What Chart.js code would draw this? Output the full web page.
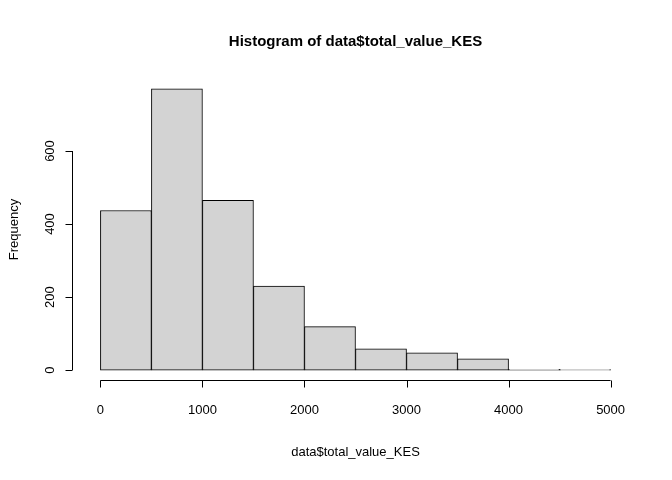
<!DOCTYPE html>
<html>
<head>
<meta charset="utf-8">
<script src="https://cdn.jsdelivr.net/npm/chart.js@4"></script>
<style>
  html, body { margin: 0; padding: 0; background: #fff; }
  #wrap { width: 672px; height: 480px; }
</style>
</head>
<body>
<div id="wrap"><canvas id="hist"></canvas></div>
<script>
// Histogram bins (bin midpoints) and counts
const binCenters = [250, 750, 1250, 1750, 2250, 2750, 3250, 3750, 4250, 4750];
const counts = [437, 770, 465, 230, 119, 58, 47, 31, 2, 1];
const xTicks = [0, 1000, 2000, 3000, 4000, 5000];
const yTicks = [0, 200, 400, 600];

const FONT = '"Liberation Sans", Arial, sans-serif';

// Draws R-style detached axes, ticks and labels from the chart's scales
const rAxes = {
  id: 'rAxes',
  afterDraw(chart) {
    const ctx = chart.ctx;
    const xs = chart.scales.x, ys = chart.scales.y;
    const area = chart.chartArea;
    ctx.save();
    ctx.strokeStyle = '#000';
    ctx.fillStyle = '#000';
    ctx.lineWidth = 1;
    ctx.font = '13px ' + FONT;

    // x axis
    const axY = Math.round(area.bottom) - 0.5;
    ctx.beginPath();
    ctx.moveTo(xs.getPixelForValue(xTicks[0]), axY);
    ctx.lineTo(xs.getPixelForValue(xTicks[xTicks.length - 1]), axY);
    xTicks.forEach(v => {
      const px = Math.round(xs.getPixelForValue(v)) + 0.5;
      ctx.moveTo(px, axY);
      ctx.lineTo(px, axY + 7);
    });
    ctx.stroke();
    ctx.textAlign = 'center';
    ctx.textBaseline = 'middle';
    xTicks.forEach(v => ctx.fillText(String(v), xs.getPixelForValue(v), axY + 30));

    // y axis
    const axX = Math.round(area.left) - 7.5;
    ctx.beginPath();
    ctx.moveTo(axX, ys.getPixelForValue(yTicks[0]));
    ctx.lineTo(axX, ys.getPixelForValue(yTicks[yTicks.length - 1]));
    yTicks.forEach(v => {
      const py = Math.round(ys.getPixelForValue(v)) + 0.5;
      ctx.moveTo(axX, py);
      ctx.lineTo(axX - 7, py);
    });
    ctx.stroke();
    yTicks.forEach(v => {
      ctx.save();
      ctx.translate(axX - 22, ys.getPixelForValue(v));
      ctx.rotate(-Math.PI / 2);
      ctx.fillText(String(v), 0, 0);
      ctx.restore();
    });

    // titles
    const midX = (area.left + area.right) / 2;
    ctx.fillText('data$total_value_KES', midX, 452);
    ctx.save();
    ctx.translate(14, (area.top + area.bottom) / 2);
    ctx.rotate(-Math.PI / 2);
    ctx.fillText('Frequency', 0, 0);
    ctx.restore();
    ctx.font = 'bold 15px ' + FONT;
    ctx.fillText('Histogram of data$total_value_KES', midX, 42);
    ctx.restore();
  }
};

new Chart(document.getElementById('hist'), {
  type: 'bar',
  data: {
    datasets: [{
      data: binCenters.map((c, i) => ({ x: c, y: counts[i] })),
      backgroundColor: '#d3d3d3',
      borderColor: '#000',
      borderWidth: 1,
      barPercentage: 1,
      categoryPercentage: 1,
      borderSkipped: false
    }]
  },
  options: {
    responsive: true,
    maintainAspectRatio: false,
    animation: false,
    layout: { padding: { left: 80, right: 41, top: 78, bottom: 99 } },
    scales: {
      x: { type: 'linear', min: -200, max: 5200, offset: false, display: false },
      y: { min: -30, max: 800, display: false }
    },
    plugins: { legend: { display: false }, tooltip: { enabled: false } }
  },
  plugins: [rAxes]
});
</script>
</body>
</html>
